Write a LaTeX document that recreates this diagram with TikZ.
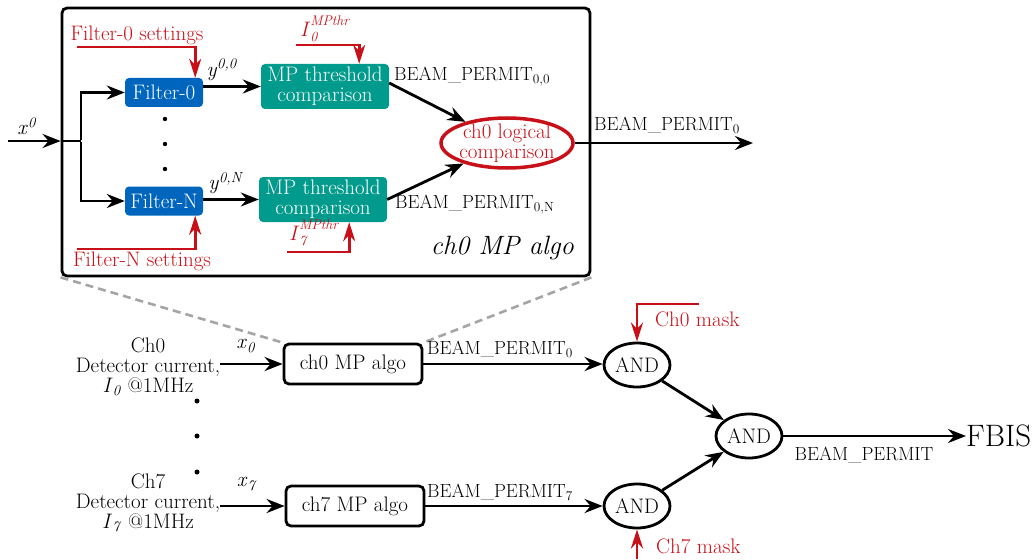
\documentclass[tikz,border=0pt]{standalone}
\usepackage{fontspec}
\usetikzlibrary{arrows.meta,shapes.geometric,calc}
\definecolor{fblue}{RGB}{0,101,189}
\definecolor{fteal}{RGB}{0,155,140}
\definecolor{fred}{RGB}{200,16,24}
\definecolor{dgray}{RGB}{165,165,165}
\newcommand{\ssx}[2]{\rlap{\raisebox{11pt}{\fontsize{14}{14}\selectfont\itshape #1}}\raisebox{-5pt}{\fontsize{14}{14}\selectfont\itshape #2}}
\begin{document}
\begin{tikzpicture}[x=1pt,y=-1pt,
  font=\fontsize{21}{20}\selectfont,
  arr/.style={line width=2.8pt,-{Stealth[length=18pt,width=14pt,inset=6pt]}},
  redarr/.style={line width=2.8pt,draw=fred,-{Stealth[length=19pt,width=12pt,inset=6pt]}},
  plain/.style={line width=2.8pt},
  fbox/.style={fill=fblue,text=white,rounded corners=4pt,minimum width=78pt,minimum height=29pt,inner sep=0pt},
  mpbox/.style={fill=fteal,text=white,rounded corners=4pt,minimum width=128pt,minimum height=45pt,inner sep=0pt,align=center},
  algobox/.style={draw,line width=2.8pt,rounded corners=5pt,minimum width=138pt,minimum height=40pt,inner sep=0pt},
  andnode/.style={draw,ellipse,line width=2.8pt,minimum width=66pt,minimum height=44pt,inner sep=0pt},
  lbl/.style={inner sep=0pt},
  bplbl/.style={inner sep=0pt,font=\fontsize{19}{19}\selectfont},
  redlbl/.style={inner sep=0pt,text=fred},
  dgline/.style={draw=dgray,line width=2.6pt,dash pattern=on 8pt off 5pt}
]
\useasboundingbox (0,0) rectangle (1035,559);

% ---------- big box (detail) ----------
\node[draw,line width=2.8pt,rounded corners=5pt,minimum width=528pt,minimum height=268pt,inner sep=0pt] (big) at (326,142) {};

\node[fbox] (f0) at (164,92.5) {Filter-0};
\node[fbox] (fN) at (164,201) {Filter-N};
\node[mpbox] (mp1) at (325,86.5) {MP threshold\\comparison};
\node[mpbox] (mp2) at (323,199.5) {MP threshold\\comparison};
\node[draw=fred,text=fred,ellipse,line width=3.5pt,minimum width=132pt,minimum height=50pt,inner xsep=-8pt,inner ysep=-4pt,align=center] (lc) at (507,143) {ch0 logical\\comparison};

\coordinate (in0) at (8,141);
\coordinate (br) at (81,141);
\coordinate (out0) at (753,143);
\coordinate (s0) at (77,47);
\coordinate (sN) at (77,249);
\coordinate (th0) at (296,45);
\coordinate (th7) at (287,252);

\node[lbl] (x0l) at (27,126) {\textit{x}\textsuperscript{\textit{0}}};
\node[lbl] (y00) at (222,70) {\textit{y}\textsuperscript{\textit{0,0}}};
\node[lbl] (y0N) at (226,183) {\textit{y}\textsuperscript{\textit{0,N}}};
\node[redlbl] (s0l) at (137,35) {Filter-0 settings};
\node[redlbl] (sNl) at (142,261) {Filter-N settings};
\node[redlbl,anchor=base west] (i0l) at (300,37) {\textit{I}\ssx{MPthr}{0}};
\node[redlbl,anchor=base west] (i7l) at (289,240) {\textit{I}\ssx{MPthr}{7}};
\node[bplbl,anchor=west] (bp00) at (394,77) {BEAM\_PERMIT\textsubscript{0,0}};
\node[bplbl,anchor=west] (bp0N) at (395,205) {BEAM\_PERMIT\textsubscript{0,N}};
\node[bplbl,anchor=west] (bp0) at (594,125) {BEAM\_PERMIT\textsubscript{0}};
\node[lbl,anchor=base east,font=\fontsize{26.5}{26.5}\selectfont\itshape] (algol) at (574,254) {ch0 MP algo};

\draw[arr] (in0) -- (big.west |- in0);
\draw[plain] (big.west |- in0) -- (br);
\draw[arr] ([yshift=1.4pt]br) |- (f0.west);
\draw[arr] ([yshift=-1.4pt]br) |- (fN.west);
\draw[arr] (f0.east |- mp1) -- (mp1.west);
\draw[arr] (fN.east |- mp2) -- (mp2.west);
\draw[redarr] (s0) -| ([xshift=-8pt]f0.north east);
\draw[redarr] (sN) -| ([xshift=-8pt]fN.south east);
\draw[redarr] (th0) -| ([xshift=-30pt]mp1.north east);
\draw[redarr] (th7) -| ([xshift=-38pt]mp2.south east);
\draw[arr] ([yshift=3.5pt]mp1.east) -- (lc);
\draw[arr] (mp2.east) -- (lc);
\draw[arr] (lc.east) -- (out0);

\fill (165,119) circle (2.2pt);
\fill (165,144) circle (2.2pt);
\fill (165,169) circle (2.2pt);

% ---------- lower overview ----------
\node[algobox] (ch0) at (353,364) {ch0 MP algo};
\node[algobox] (ch7) at (355,506) {ch7 MP algo};
\node[andnode] (and1) at (637,365) {AND};
\node[andnode] (andc) at (749,436) {AND};
\node[andnode] (and7) at (637,506) {AND};

\draw[dgline] (big.south west) -- (ch0.north west);
\draw[dgline] (big.south east) -- (ch0.north east);

\node[lbl,align=center] (t0) at (148,367) {Ch0\\Detector current,\\\textit{I}\textsubscript{\textit{0}} @1MHz};
\node[lbl,align=center] (t7) at (148,503) {Ch7\\Detector current,\\\textit{I}\textsubscript{\textit{7}} @1MHz};
\node[lbl] (x0s) at (246,346) {\textit{x}\textsubscript{\textit{0}}};
\node[lbl] (x7s) at (247,484) {\textit{x}\textsubscript{\textit{7}}};
\node[bplbl,anchor=west] (bpl0) at (427,349) {BEAM\_PERMIT\textsubscript{0}};
\node[bplbl,anchor=west] (bpl7) at (427,492) {BEAM\_PERMIT\textsubscript{7}};
\node[redlbl,anchor=west] (m0l) at (655,319) {Ch0 mask};
\node[redlbl,anchor=west] (m7l) at (656,546) {Ch7 mask};
\node[bplbl] (bpl) at (864,455) {BEAM\_PERMIT};
\node[lbl,anchor=west,font=\fontsize{31}{31}\selectfont] (fbis) at (966,436) {FBIS};

\coordinate (m0) at (699,304);
\coordinate (m7) at (637,559);

\draw[arr] (t0.east |- ch0.west) -- (ch0.west);
\draw[arr] (t7.east |- ch7.west) -- (ch7.west);
\draw[arr] (ch0.east) -- (and1.west |- ch0.east);
\draw[arr] (ch7.east) -- (and7.west |- ch7.east);
\draw[redarr] (m0) -| (and1.north);
\draw[redarr] (m7) -- (and7.south);
\draw[arr] (and1) -- (andc);
\draw[arr] (and7) -- (andc);
\draw[arr] (andc.east) -- (fbis.west);

\fill (197,401) circle (2.5pt);
\fill (197,436) circle (2.5pt);
\fill (197,472) circle (2.5pt);
\end{tikzpicture}
\end{document}
